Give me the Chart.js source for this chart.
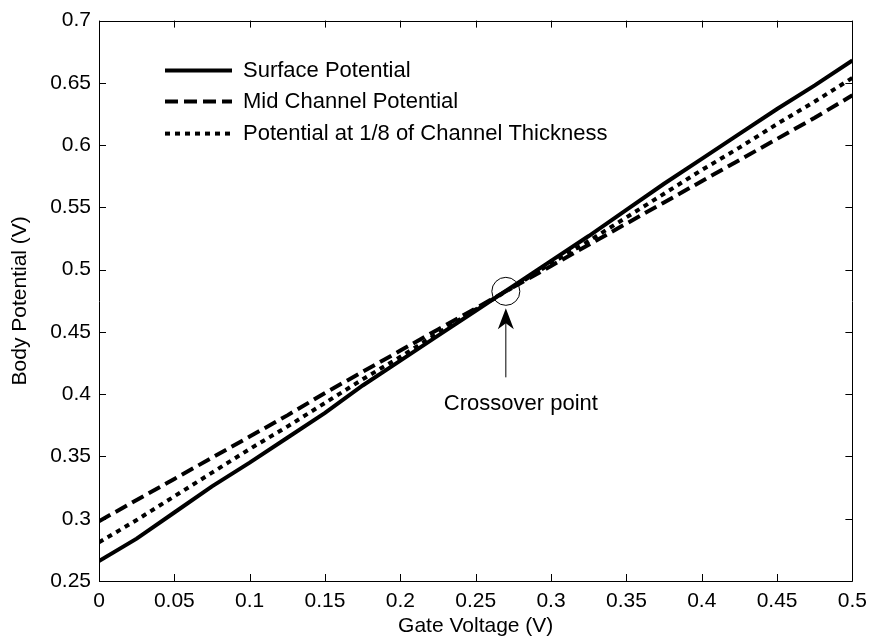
<!DOCTYPE html>
<html>
<head>
<meta charset="utf-8">
<script src="https://cdn.jsdelivr.net/npm/chart.js@4/dist/chart.umd.min.js"></script>
<style>
	html, body { margin: 0; padding: 0; background: #fff; }
	#wrap { width: 875px; height: 641px; }
</style>
</head>
<body>
<div id="wrap"><canvas id="chart"></canvas></div>
<script>
// gate voltage samples (V)
const gateVoltage = [0, 0.025, 0.05, 0.075, 0.1, 0.125, 0.15, 0.175, 0.2, 0.225, 0.25,
	0.275, 0.3, 0.325, 0.35, 0.375, 0.4, 0.425, 0.45, 0.475, 0.5];

// body potential (V)
const surfacePotential = [0.266, 0.284, 0.305, 0.326, 0.345, 0.365, 0.385, 0.407, 0.427, 0.447, 0.467,
	0.487, 0.507, 0.527, 0.548, 0.569, 0.589, 0.609, 0.629, 0.648, 0.668];
const midChannelPotential = [0.298, 0.315, 0.332, 0.349, 0.366, 0.383, 0.401, 0.418, 0.435, 0.452, 0.469,
	0.486, 0.503, 0.520, 0.537, 0.554, 0.571, 0.588, 0.605, 0.622, 0.640];
const eighthPotential = [0.281, 0.299, 0.318, 0.337, 0.356, 0.374, 0.393, 0.412, 0.430, 0.449, 0.468,
	0.486, 0.505, 0.523, 0.542, 0.561, 0.580, 0.598, 0.617, 0.635, 0.654];

const seriesLabels = ["Surface Potential", "Mid Channel Potential", "Potential at 1/8 of Channel Thickness"];

const xTicks = [0, 0.05, 0.1, 0.15, 0.2, 0.25, 0.3, 0.35, 0.4, 0.45, 0.5];
const yTicks = [0.25, 0.3, 0.35, 0.4, 0.45, 0.5, 0.55, 0.6, 0.65, 0.7];

const crossover = { x: 0.27, y: 0.4826, label: "Crossover point" };

const FONT = "'Liberation Sans', Arial, Helvetica, sans-serif";

function toPoints(ys) {
	return gateVoltage.map(function (x, i) { return { x: x, y: ys[i] }; });
}

function tickLabel(v) {
	return String(parseFloat(v.toFixed(2)));
}

// box round the plot with inward ticks on all sides (matlab style)
const framePlugin = {
	id: "frame",
	afterDatasetsDraw: function (chart) {
		const ctx = chart.ctx;
		const a = chart.chartArea;
		const xs = chart.scales.x, ys = chart.scales.y;
		const len = 7;
		ctx.save();
		ctx.strokeStyle = "#000";
		ctx.lineWidth = 1;
		ctx.beginPath();
		ctx.rect(Math.round(a.left) + 0.5, Math.round(a.top) + 0.5, Math.round(a.right - a.left), Math.round(a.bottom - a.top));
		xTicks.forEach(function (t) {
			const px = Math.round(xs.getPixelForValue(t)) + 0.5;
			ctx.moveTo(px, a.bottom); ctx.lineTo(px, a.bottom - len);
			ctx.moveTo(px, a.top); ctx.lineTo(px, a.top + len);
		});
		yTicks.forEach(function (t) {
			const py = Math.round(ys.getPixelForValue(t)) + 0.5;
			ctx.moveTo(a.left, py); ctx.lineTo(a.left + len, py);
			ctx.moveTo(a.right, py); ctx.lineTo(a.right - len, py);
		});
		ctx.stroke();
		ctx.restore();
	}
};

// legend drawn inside the axes, top left, no box
const legendPlugin = {
	id: "insideLegend",
	afterDraw: function (chart) {
		const ctx = chart.ctx;
		const a = chart.chartArea;
		const x0 = a.left + 66, x1 = a.left + 133, tx = a.left + 144;
		const rows = [a.top + 50, a.top + 81, a.top + 113];
		ctx.save();
		chart.data.datasets.forEach(function (ds, i) {
			ctx.strokeStyle = ds.borderColor;
			ctx.lineWidth = ds.borderWidth;
			ctx.setLineDash(ds.borderDash || []);
			ctx.beginPath();
			ctx.moveTo(x0, rows[i]);
			ctx.lineTo(x1, rows[i]);
			ctx.stroke();
			ctx.setLineDash([]);
			ctx.fillStyle = "#000";
			ctx.font = "22px " + FONT;
			ctx.textBaseline = "middle";
			ctx.textAlign = "left";
			ctx.fillText(ds.label, tx, rows[i]);
		});
		ctx.restore();
	}
};

// circle + arrow + note at the crossover point
const notePlugin = {
	id: "crossNote",
	afterDraw: function (chart) {
		const ctx = chart.ctx;
		const cx = chart.scales.x.getPixelForValue(crossover.x);
		const cy = chart.scales.y.getPixelForValue(crossover.y);
		const r = 14;
		ctx.save();
		ctx.strokeStyle = "#000";
		ctx.fillStyle = "#000";
		ctx.lineWidth = 1;
		ctx.beginPath();
		ctx.arc(cx, cy, r, 0, Math.PI * 2);
		ctx.stroke();
		const tip = cy + r + 3;
		ctx.beginPath();
		ctx.moveTo(cx, tip + 10);
		ctx.lineTo(cx, cy + 86);
		ctx.stroke();
		ctx.beginPath();
		ctx.moveTo(cx, tip);
		ctx.lineTo(cx - 8, tip + 21);
		ctx.lineTo(cx, tip + 15);
		ctx.lineTo(cx + 8, tip + 21);
		ctx.closePath();
		ctx.fill();
		ctx.font = "22px " + FONT;
		ctx.textBaseline = "middle";
		ctx.textAlign = "left";
		ctx.fillText(crossover.label, cx - 62, cy + 113);
		ctx.restore();
	}
};

const ctx = document.getElementById("chart");
new Chart(ctx, {
	type: "line",
	data: {
		datasets: [
			{
				label: seriesLabels[0],
				data: toPoints(surfacePotential),
				borderColor: "#000",
				borderWidth: 4,
				borderDash: [],
				pointRadius: 0,
				tension: 0
			},
			{
				label: seriesLabels[1],
				data: toPoints(midChannelPotential),
				borderColor: "#000",
				borderWidth: 4,
				borderDash: [13, 6],
				pointRadius: 0,
				tension: 0
			},
			{
				label: seriesLabels[2],
				data: toPoints(eighthPotential),
				borderColor: "#000",
				borderWidth: 4,
				borderDash: [5, 5],
				pointRadius: 0,
				tension: 0
			}
		]
	},
	options: {
		responsive: true,
		maintainAspectRatio: false,
		animation: false,
		layout: { padding: { left: 0, right: 19, top: 16, bottom: 0 } },
		plugins: {
			legend: { display: false },
			tooltip: { enabled: false }
		},
		scales: {
			x: {
				type: "linear",
				min: 0,
				max: 0.5,
				afterBuildTicks: function (scale) {
					scale.ticks = xTicks.map(function (v) { return { value: v }; });
				},
				afterFit: function (scale) { scale.height = 60; },
				grid: { display: false, drawTicks: false },
				border: { display: false },
				ticks: {
					color: "#000",
					font: { family: FONT, size: 21 },
					padding: 8,
					maxRotation: 0,
					callback: tickLabel
				},
				title: {
					display: true,
					text: "Gate Voltage (V)",
					color: "#000",
					font: { family: FONT, size: 21 },
					padding: { top: 0, bottom: 2 }
				}
			},
			y: {
				type: "linear",
				min: 0.25,
				max: 0.7,
				afterBuildTicks: function (scale) {
					scale.ticks = yTicks.map(function (v) { return { value: v }; });
				},
				afterFit: function (scale) { scale.width = 99; },
				grid: { display: false, drawTicks: false },
				border: { display: false },
				ticks: {
					color: "#000",
					font: { family: FONT, size: 21 },
					padding: 8,
					callback: tickLabel
				},
				title: {
					display: true,
					text: "Body Potential (V)",
					color: "#000",
					font: { family: FONT, size: 21 },
					padding: { top: 8, bottom: 0 }
				}
			}
		}
	},
	plugins: [framePlugin, legendPlugin, notePlugin]
});
</script>
</body>
</html>
